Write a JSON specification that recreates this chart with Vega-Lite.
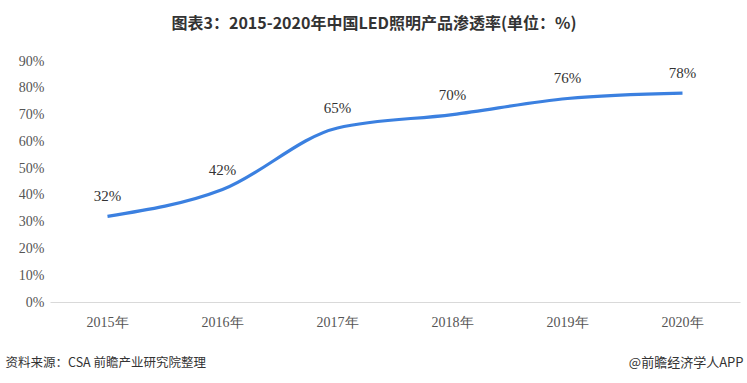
{
  "$schema": "https://vega.github.io/schema/vega-lite/v6.json",
  "autosize": "none",
  "width": 690,
  "height": 241,
  "padding": {"left": 50, "top": 61, "right": 7, "bottom": 81},
  "background": "white",
  "config": {"view": {"stroke": null}},
  "title": {
    "text": "图表3：2015-2020年中国LED照明产品渗透率(单位：%)",
    "anchor": "middle",
    "font": "Noto Sans CJK SC",
    "fontSize": 16,
    "fontWeight": "bold",
    "color": "#333333",
    "frame": "bounds",
    "offset": 22
  },
  "data": {
    "values": [
      {"year": "2015", "rate": 32},
      {"year": "2016", "rate": 42},
      {"year": "2017", "rate": 65},
      {"year": "2018", "rate": 70},
      {"year": "2019", "rate": 76},
      {"year": "2020", "rate": 78}
    ]
  },
  "encoding": {
    "x": {
      "field": "year",
      "type": "ordinal",
      "sort": null,
      "scale": {"type": "band", "paddingInner": 0, "paddingOuter": 0},
      "axis": {
        "labelExpr": "datum.value + '年'",
        "labelAngle": 0,
        "labelFont": "Liberation Serif",
        "labelFontSize": 14,
        "labelColor": "#555555",
        "labelPadding": 13,
        "ticks": false,
        "domainColor": "#d9d9d9",
        "domainWidth": 1,
        "title": "资料来源：CSA 前瞻产业研究院整理",
        "titleFont": "Noto Sans CJK SC",
        "titleFontSize": 12.5,
        "titleFontWeight": "normal",
        "titleColor": "#333333",
        "titleAnchor": "start",
        "titleAlign": "left",
        "titleBaseline": "middle",
        "titleLimit": 0,
        "titleX": -45,
        "titleY": 60
      }
    },
    "y": {
      "field": "rate",
      "type": "quantitative",
      "scale": {"domain": [0, 90], "nice": false},
      "axis": {
        "values": [0, 10, 20, 30, 40, 50, 60, 70, 80, 90],
        "labelExpr": "datum.value + '%'",
        "labelFont": "Liberation Serif",
        "labelFontSize": 14,
        "labelColor": "#555555",
        "labelPadding": 6,
        "ticks": false,
        "domain": false,
        "grid": false,
        "title": "@前瞻经济学人APP",
        "titleFont": "Noto Sans CJK SC",
        "titleFontSize": 13,
        "titleFontWeight": "normal",
        "titleColor": "#333333",
        "titleAngle": 0,
        "titleAlign": "right",
        "titleBaseline": "middle",
        "titleLimit": 0,
        "titleX": 693,
        "titleY": 301
      }
    }
  },
  "layer": [
    {
      "mark": {"type": "line", "interpolate": "monotone", "color": "#3b80e0", "strokeWidth": 3.2}
    },
    {
      "mark": {"type": "text", "dy": -20, "font": "Liberation Serif", "fontSize": 15, "color": "#333333"},
      "encoding": {"text": {"field": "label"}}
    }
  ],
  "transform": [{"calculate": "datum.rate + '%'", "as": "label"}]
}
